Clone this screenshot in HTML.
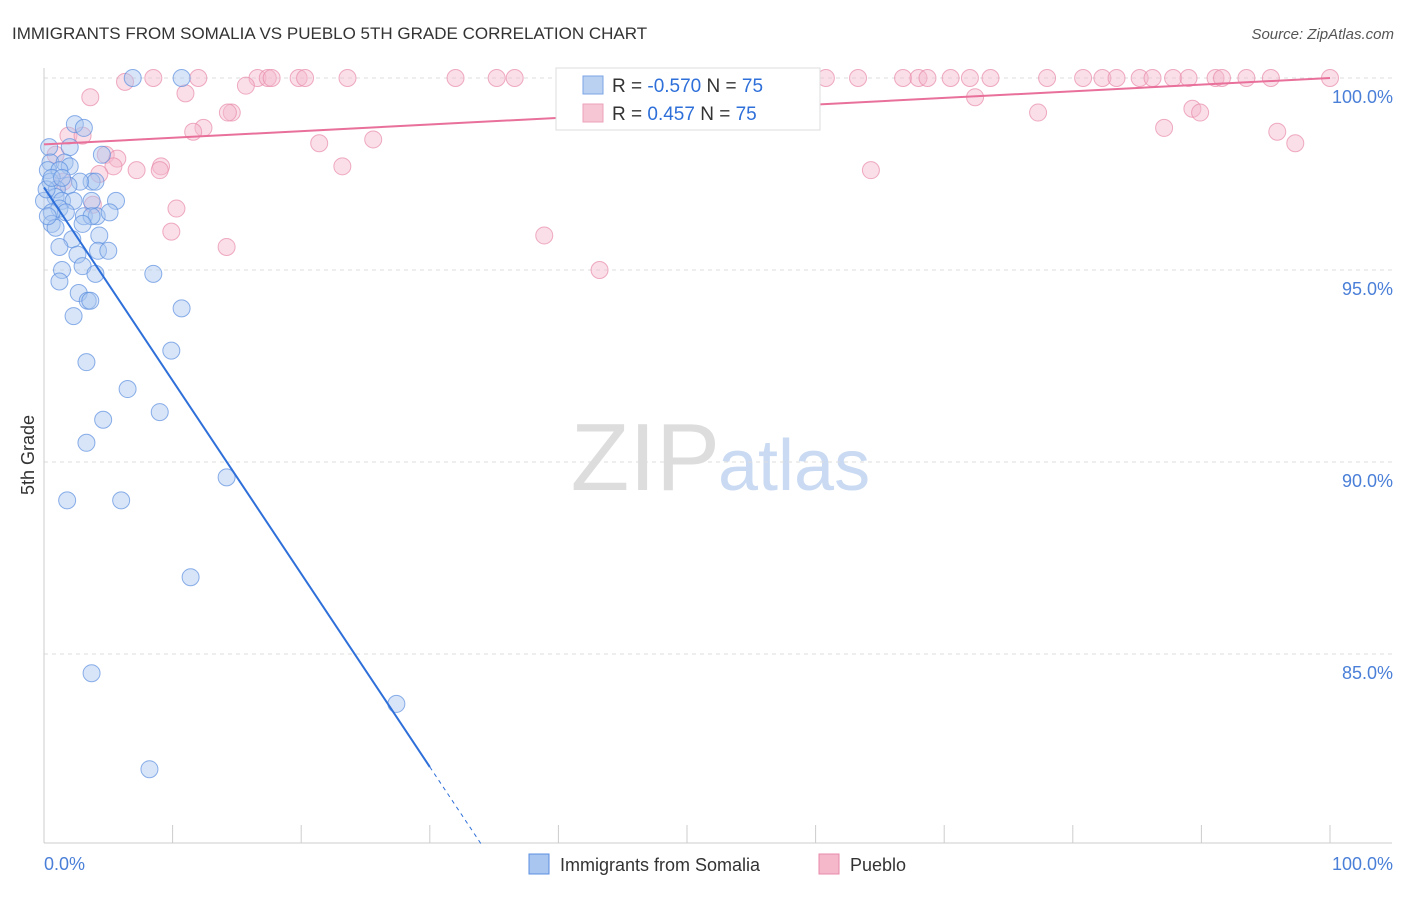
<!DOCTYPE html>
<html><head><meta charset="utf-8">
<style>
body{margin:0;background:#fff;font-family:"Liberation Sans",sans-serif;}
svg text{font-family:"Liberation Sans",sans-serif;}
</style></head>
<body>
<svg id="chart" width="1406" height="892" xmlns="http://www.w3.org/2000/svg">
<text x="12" y="39" font-size="17" fill="#333">IMMIGRANTS FROM SOMALIA VS PUEBLO 5TH GRADE CORRELATION CHART</text>
<text x="1394" y="39" font-size="15" fill="#555" font-style="italic" text-anchor="end">Source: ZipAtlas.com</text>
<text x="720" y="490" font-size="96" fill="#ddd" font-family="Liberation Serif" text-anchor="end">ZIP</text>
<text x="718" y="490" font-size="72" fill="#c9daf2">atlas</text>
<text transform="translate(34,455) rotate(-90)" font-size="18" fill="#333" text-anchor="middle">5th Grade</text>
<g id="grid"></g><g id="marks"></g>
<g>
<rect x="556" y="68" width="264" height="62" fill="#fff" stroke="#ddd"/>
<rect x="583" y="76" width="20" height="18" fill="#a9c6f0" stroke="#5b8fe0" opacity="0.8"/>
<text x="612" y="92" font-size="19" fill="#333">R = <tspan fill="#2e6fd9">-0.570</tspan>   N = <tspan fill="#2e6fd9">75</tspan></text>
<rect x="583" y="104" width="20" height="18" fill="#f5b8cb" stroke="#e88aa8" opacity="0.8"/>
<text x="612" y="120" font-size="19" fill="#333">R =  <tspan fill="#2e6fd9">0.457</tspan>   N = <tspan fill="#2e6fd9">75</tspan></text>
</g>
<g>
<rect x="529" y="854" width="20" height="20" fill="#a9c6f0" stroke="#5b8fe0"/>
<text x="560" y="871" font-size="18" fill="#333">Immigrants from Somalia</text>
<rect x="819" y="854" width="20" height="20" fill="#f5b8cb" stroke="#e88aa8"/>
<text x="850" y="871" font-size="18" fill="#333">Pueblo</text>
</g>
<text x="44" y="870" font-size="18" fill="#4a7fd8">0.0%</text>
<text x="1393" y="870" font-size="18" fill="#4a7fd8" text-anchor="end">100.0%</text>
</svg>
<script>
const blueX=[6.9,10.7,2.4,3.1,2.0,0.4,4.5,0.5,1.6,2.0,0.3,1.2,3.7,4.0,0.5,2.8,1.9,1.0,0.9,0.0,1.4,2.3,3.7,5.6,1.2,1.7,0.6,3.1,4.1,5.1,3.7,3.0,0.6,0.9,4.3,2.2,1.2,2.6,4.2,5.0,1.4,3.0,4.0,8.5,1.2,2.7,3.4,3.6,2.3,10.7,9.9,3.3,6.5,9.0,4.6,3.3,14.2,1.8,6.0,11.4,3.7,27.4,8.2,0.3,0.2,0.6,1.4];
const blueY=[100,100,98.8,98.7,98.2,98.2,98.0,97.8,97.8,97.7,97.6,97.6,97.3,97.3,97.3,97.3,97.2,97.1,96.9,96.8,96.8,96.8,96.8,96.8,96.6,96.5,96.5,96.4,96.4,96.5,96.4,96.2,96.2,96.1,95.9,95.8,95.6,95.4,95.5,95.5,95.0,95.1,94.9,94.9,94.7,94.4,94.2,94.2,93.8,94.0,92.9,92.6,91.9,91.3,91.1,90.5,89.6,89.0,89.0,87.0,84.5,83.7,82.0,96.4,97.1,97.4,97.4];
const pinkX=[8.5,12.0,16.6,17.4,17.7,19.8,20.3,23.6,32.0,35.2,36.6,47.1,59.6,60.8,63.3,66.8,68.0,68.7,70.5,72.0,73.6,78.0,80.8,82.3,83.4,85.2,86.2,87.8,89.0,91.1,91.6,93.5,95.4,100,6.3,11.0,3.6,15.7,14.6,14.3,12.4,11.6,1.9,3.0,21.4,25.6,77.3,89.3,89.9,72.4,87.1,95.9,97.3,4.8,5.7,9.1,5.4,7.2,9.0,23.2,64.3,4.3,1.5,3.8,10.3,9.9,14.2,38.9,43.2,0.9];
const pinkY=[100,100,100,100,100,100,100,100,100,100,100,100,100,100,100,100,100,100,100,100,100,100,100,100,100,100,100,100,100,100,100,100,100,100,99.9,99.6,99.5,99.8,99.1,99.1,98.7,98.6,98.5,98.5,98.3,98.4,99.1,99.2,99.1,99.5,98.7,98.6,98.3,98.0,97.9,97.7,97.7,97.6,97.6,97.7,97.6,97.5,97.3,96.7,96.6,96.0,95.6,95.9,95.0,98.0];
const yTicks=[100,95,90,85];
const yTickLabels=["100.0%","95.0%","90.0%","85.0%"];
const xTicks=[0,10,20,30,40,50,60,70,80,90,100];
const blueTrend=[97.15,-0.503];
const pinkTrend=[98.27,0.0173];
const NS="http://www.w3.org/2000/svg";
const sx=v=>44+v*12.86;
const sy=v=>78+(100-v)*38.4;
function mk(t,a,p){const e=document.createElementNS(NS,t);for(const k in a)e.setAttribute(k,a[k]);p.appendChild(e);return e;}
const grid=document.getElementById('grid'),marks=document.getElementById('marks');
yTicks.forEach((v,i)=>{
  const l=mk('line',{x1:44,x2:1392,y1:sy(v),y2:sy(v),stroke:'#ddd','stroke-dasharray':'4,4'},grid);
  
  
  const t=mk('text',{x:1393,y:sy(v)+25,'font-size':18,fill:'#4a7fd8','text-anchor':'end'},grid);
  t.textContent=yTickLabels[i];
  
  
});
const ax=mk('line',{x1:44,x2:44,y1:68,y2:843,stroke:'#ccc'},grid);


const bx=mk('line',{x1:44,x2:1392,y1:843,y2:843,stroke:'#ccc'},grid);


xTicks.forEach(v=>{
  const l=mk('line',{x1:sx(v),x2:sx(v),y1:825,y2:843,stroke:'#ccc'},grid);
  
  
});
function dots(X,Y,fill,stroke,name){
  X.forEach((x,i)=>{
    const c=mk('circle',{cx:sx(x),cy:sy(Y[i]),r:8.5,fill:fill,'fill-opacity':0.45,stroke:stroke,'stroke-opacity':0.7,'stroke-width':1},marks);
    
    
  });
}
dots(pinkX,pinkY,'#f5b8cb','#e88aa8','pueblo-point');
dots(blueX,blueY,'#a9c6f0','#5b8fe0','somalia-point');
const bl=mk('line',{x1:sx(0),y1:sy(blueTrend[0]),x2:sx(30),y2:sy(blueTrend[0]+blueTrend[1]*30),stroke:'#2e6fd9','stroke-width':2},marks);


const bd=mk('line',{x1:sx(30),y1:sy(blueTrend[0]+blueTrend[1]*30),x2:sx(34.1),y2:sy(blueTrend[0]+blueTrend[1]*34.1),stroke:'#2e6fd9','stroke-width':1,'stroke-dasharray':'4,4'},marks);


const pl=mk('line',{x1:sx(0),y1:sy(pinkTrend[0]),x2:sx(100),y2:sy(pinkTrend[0]+pinkTrend[1]*100),stroke:'#e8709a','stroke-width':2},marks);


</script>
</body></html>
